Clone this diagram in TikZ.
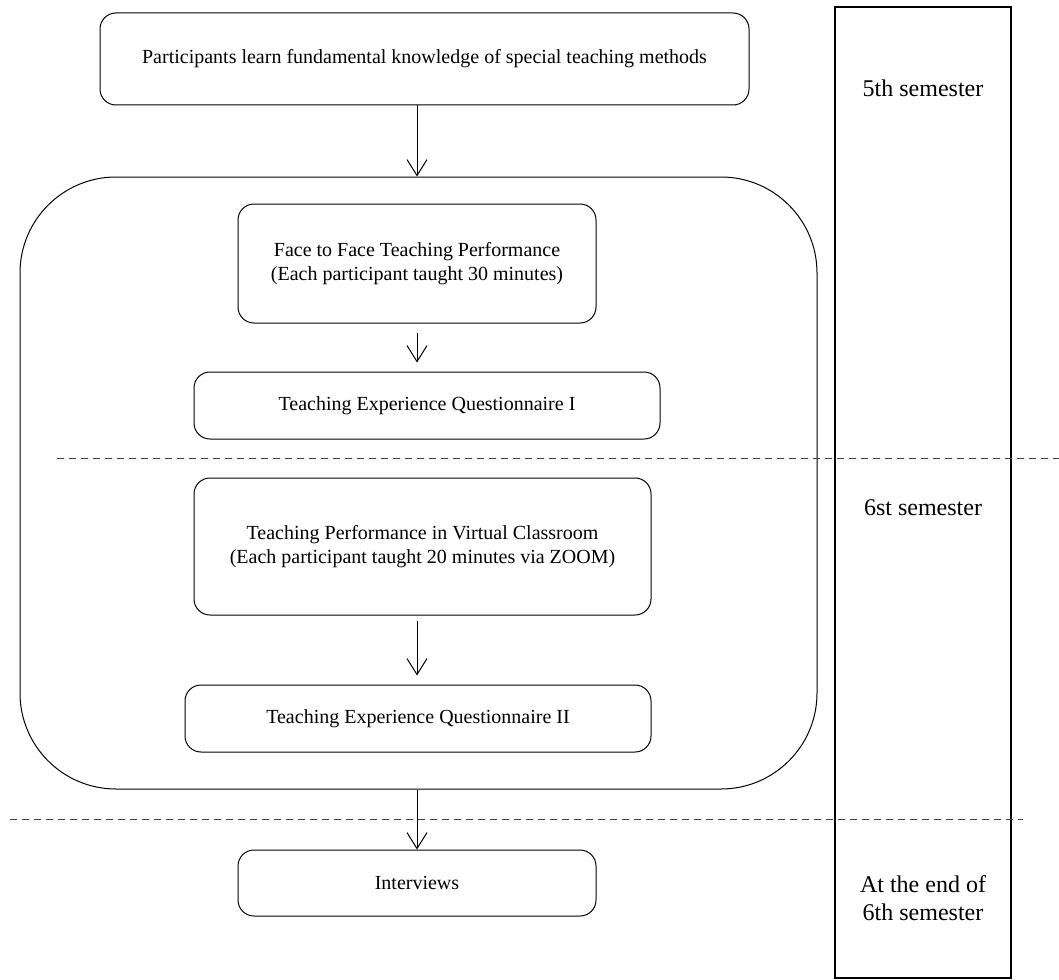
\documentclass[tikz,border=0pt]{standalone}
\usepackage{fontspec}
\setmainfont{Liberation Serif}
\usepackage{tikz}
\usetikzlibrary{arrows.meta, positioning}

\tikzset{
  box/.style={draw, line width=0.5pt, rounded corners=8pt, align=center, inner sep=0pt},
  arr/.style={-{Straight Barb[length=8pt, width=10pt]}, line width=0.5pt},
  sep/.style={dash pattern=on 3.5pt off 2.5pt, line width=0.5pt, black!75},
  sem/.style={font=\large, align=center}
}

\begin{document}
\begin{tikzpicture}[x=0.5pt, y=-0.5pt]
\useasboundingbox (0,0) rectangle (1059,979);

% semester column
\draw[line width=0.6pt] (835,7) rectangle (1011,978);
\node[sem] (s5) at (923,88) {5th semester};
\node[sem] (s6) at (923,508) {6st semester};
\node[sem] (send) at (923,898) {At the end of\\6th semester};

% outer frame
\node[box, rounded corners=48pt, minimum width=398.5pt, minimum height=306pt] (outer) at (418.5,483) {};

\node[box, minimum width=324.5pt, minimum height=46pt] (top) at (424.5,59)
  {Participants learn fundamental knowledge of special teaching methods};
\node[box, minimum width=179pt, minimum height=59.5pt] (face) at (417,263.5)
  {Face to Face Teaching Performance\\(Each participant taught 30 minutes)};
\node[box, minimum width=233pt, minimum height=33.5pt] (teq1) at (427,405.5)
  {Teaching Experience Questionnaire I};
\node[box, minimum width=228.5pt, minimum height=68.5pt] (virt) at (422.5,546.5)
  {Teaching Performance in Virtual Classroom\\(Each participant taught 20 minutes via ZOOM)};
\node[box, minimum width=233pt, minimum height=33.5pt] (teq2) at (418,718.5)
  {Teaching Experience Questionnaire II};
\node[box, minimum width=179pt, minimum height=33pt] (intv) at (417,883)
  {Interviews};

% phase separators
\draw[sep] (57,458) -- (1059,458);
\draw[sep] (10,819) -- (1023,819);

\draw[arr] (top.south -| face) -- (outer.north -| face);
\draw[arr, shorten <=4.5pt, shorten >=4.5pt] (face.south) -- (teq1.north -| face);
\draw[arr, shorten <=2.5pt, shorten >=4.5pt] (virt.south -| face) -- (teq2.north -| face);
\draw[arr] (outer.south -| face) -- (intv.north);
\end{tikzpicture}
\end{document}
